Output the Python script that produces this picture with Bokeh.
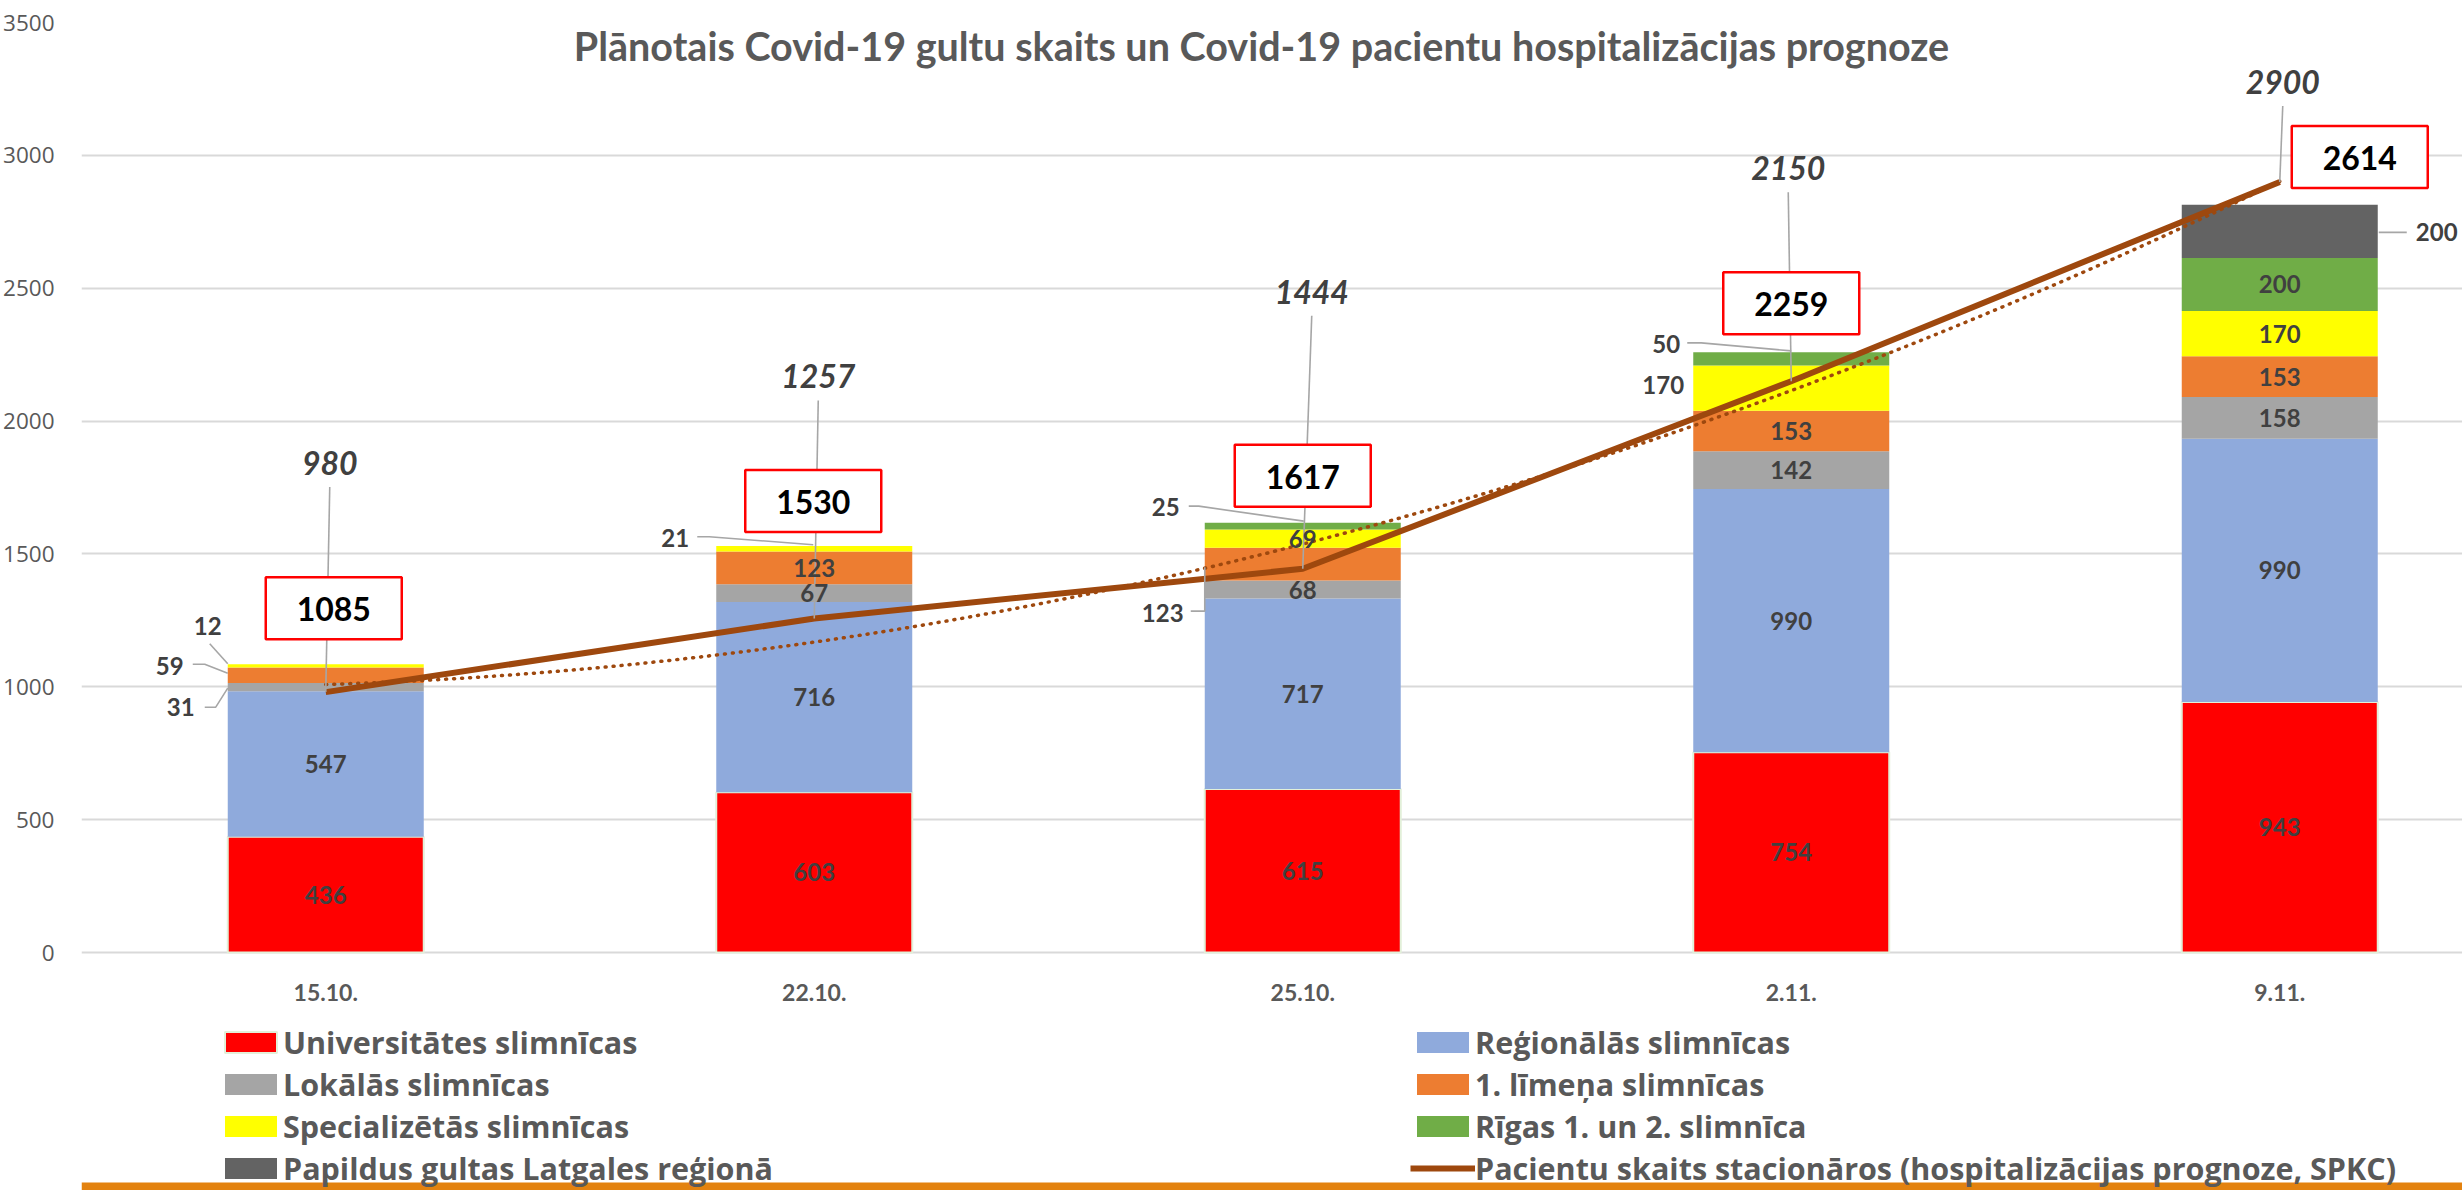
import numpy as np
from bokeh.plotting import figure
from bokeh.models import Range1d, FixedTicker, Legend, LegendItem, Label, BoxAnnotation
from bokeh.core.properties import value
from bokeh.embed import file_html
from bokeh.resources import INLINE

# ---------------- data ----------------
categories = ["15.10.", "22.10.", "25.10.", "2.11.", "9.11."]
universitates = [436, 603, 615, 754, 943]
regionalas = [547, 716, 717, 990, 990]
lokalas = [31, 67, 68, 142, 158]
limena1 = [59, 123, 123, 153, 153]
specializetas = [12, 21, 69, 170, 170]
rigas = [0, 0, 25, 50, 200]
latgale = [0, 0, 0, 0, 200]
pacienti = [980, 1257, 1444, 2150, 2900]
totals = [1085, 1530, 1617, 2259, 2614]
y_ticks = [0, 500, 1000, 1500, 2000, 2500, 3000, 3500]

series_names = ["Universitātes slimnīcas", "Reģionālās slimnīcas", "Lokālās slimnīcas",
                "1. līmeņa slimnīcas", "Specializētās slimnīcas", "Rīgas 1. un 2. slimnīca",
                "Papildus gultas Latgales reģionā"]
line_name = "Pacientu skaits stacionāros (hospitalizācijas prognoze, SPKC)"
title_text = "Plānotais Covid-19 gultu skaits un Covid-19 pacientu hospitalizācijas prognoze"
colors = ["#FF0000", "#8FAADC", "#A5A5A5", "#ED7D31", "#FFFF00", "#70AD47", "#636363"]

# ---------------- geometry ----------------
FRAME_W = 2381
PLOT_H = 930            # pixels from 0 to 3500
BELOW_H = 238           # room under the zero line for the category labels and legend
CAT_PX = 488.5
PXU = PLOT_H / 3500.0
BAR_W = 196 / CAT_PX
FONT = "Lato"
LEG_FONT = "Open Sans"
GRAY_TXT = "#595959"
LBL_TXT = "#404040"
BROWN = "#9E480E"
LEADER = "#A6A6A6"
X_END = -0.5 + FRAME_W / CAT_PX
Y_START = -BELOW_H / PXU

def dxd(px):
    return px / CAT_PX

def dyd(px):
    return -px / PXU

p = figure(frame_width=FRAME_W, frame_height=PLOT_H + BELOW_H,
           x_range=Range1d(-0.5, X_END), y_range=Range1d(Y_START, 3500),
           output_backend="svg", toolbar_location=None,
           min_border_left=74, min_border_right=0, min_border_top=22, min_border_bottom=0)
p.outline_line_color = None
p.background_fill_color = "white"
p.border_fill_color = "white"
p.xgrid.visible = False
p.ygrid.grid_line_color = "#D9D9D9"
p.ygrid.grid_line_width = 2

p.yaxis.ticker = FixedTicker(ticks=y_ticks)
p.yaxis.axis_line_color = None
p.yaxis.major_tick_line_color = None
p.yaxis.minor_tick_line_color = None
p.yaxis.major_label_standoff = 21
p.yaxis.major_label_text_font = "Open Sans"
p.yaxis.major_label_text_font_size = "22.5px"
p.yaxis.major_label_text_color = GRAY_TXT

xs = list(range(len(categories)))
p.xaxis.ticker = FixedTicker(ticks=xs)
p.xaxis.fixed_location = 0
p.xaxis.major_label_overrides = {i: c for i, c in zip(xs, categories)}
p.xaxis.axis_line_color = None
p.xaxis.major_tick_line_color = None
p.xaxis.minor_tick_line_color = None
p.xaxis.major_label_standoff = 25
p.xaxis.major_label_text_font = FONT
p.xaxis.major_label_text_font_style = "bold"
p.xaxis.major_label_text_font_size = "23px"
p.xaxis.major_label_text_color = GRAY_TXT

# ---------------- stacked bars ----------------
stack = np.array([universitates, regionalas, lokalas, limena1, specializetas, rigas, latgale], dtype=float)
tops = np.cumsum(stack, axis=0)
bottoms = tops - stack
bar_renderers = []
for k in range(len(series_names)):
    r = p.vbar(x=xs, bottom=list(bottoms[k]), top=list(tops[k]), width=BAR_W,
               fill_color=colors[k],
               line_color="#E2F0D9" if k == 0 else None, line_width=2)
    bar_renderers.append(r)

# ---------------- trendline + line ----------------
coef = np.polyfit(xs, pacienti, 2)   # Excel polynomial (order 2) trendline of the patient series
tx = np.linspace(0, 4, 200)
p.line(tx, np.polyval(coef, tx), line_color=BROWN, line_width=3.5, line_dash="1 7", line_cap="round")
line_r = p.line(xs, pacienti, line_color=BROWN, line_width=6, line_join="round")

# ---------------- segment labels ----------------
outside = {
    (4, 0): ((-118, -40), [(-116, -22), (-98, -2)]),
    (3, 0): ((-156, -9), [(-133, -11), (-121, -11), (-98, -2)]),
    (2, 0): ((-145, 20), [(-121, 20), (-110, 20), (-98, 1)]),
    (4, 1): ((-139, -11), [(-117, -12), (-105, -12), (-1, -4)]),
    (3, 2): ((-140, 49), [(-112, 47), (-98, 47), (-98, 3)]),
    (5, 2): ((-137, -19), [(-114, -20), (-104, -20), (1, -5)]),
    (4, 3): ((-128, -3), []),
    (5, 3): ((-125, -15), [(-104, -16), (-90, -16), (0, -8)]),
    (6, 4): ((157, 1), [(99, 1), (127, 1)]),
}
in_x, in_y, in_t = [], [], []
out_x, out_y, out_t, out_dx, out_dy = [], [], [], [], []
lead_xs, lead_ys = [], []
for k in range(len(series_names)):
    for i in xs:
        v = int(stack[k, i])
        if v <= 0:
            continue
        mid = bottoms[k, i] + v / 2.0
        if (k, i) in outside:
            (ldx, ldy), pts = outside[(k, i)]
            out_x.append(i); out_y.append(mid); out_t.append(str(v))
            out_dx.append(ldx); out_dy.append(ldy)
            if pts:
                lead_xs.append([i + dxd(a) for a, b in pts])
                lead_ys.append([mid + dyd(b) for a, b in pts])
        else:
            in_x.append(i); in_y.append(mid); in_t.append(str(v))

# line labels: offsets of the text baseline from the line point
lab_dx = [4, 4, 9, -3, 3]
lab_dy = [-217, -230, -265, -201, -88]
for i in xs:
    lead_xs.append([i + dxd(lab_dx[i]), i])
    lead_ys.append([pacienti[i] + dyd(lab_dy[i] + 12), pacienti[i]])

p.multi_line(lead_xs, lead_ys, line_color=LEADER, line_width=1.6)

p.text(x=in_x, y=in_y, text=in_t, text_align="center", text_baseline="middle",
       text_font=value(FONT), text_font_style="bold", text_font_size="24px", text_color=LBL_TXT)
p.text(x=out_x, y=out_y, text=out_t, x_offset=out_dx, y_offset=out_dy,
       text_align="center", text_baseline="middle",
       text_font=value(FONT), text_font_style="bold", text_font_size="24px", text_color=LBL_TXT)

# line value labels (italic), centred 12px above their baseline
p.text(x=xs, y=pacienti, text=[str(v) for v in pacienti], x_offset=lab_dx,
       y_offset=[d - 12 for d in lab_dy],
       text_align="center", text_baseline="middle",
       text_font=value(FONT), text_font_style="bold italic", text_font_size="32px", text_color=LBL_TXT)

# boxed totals
box_dx = [8, -1, 0, 0, 80]
box_dy = [-56, -45, -47, -49, -101]
bx = [i + dxd(box_dx[i]) for i in xs]
by = [totals[i] + dyd(box_dy[i]) for i in xs]
p.rect(x=bx, y=by, width=136, height=62, width_units="screen", height_units="screen",
       fill_color="white", line_color="#FF0000", line_width=2.5)
p.text(x=bx, y=by, text=[str(v) for v in totals], y_offset=1,
       text_align="center", text_baseline="middle",
       text_font=value(FONT), text_font_style="bold", text_font_size="32px", text_color="black")

# title inside plot area
p.add_layout(Label(x=(1262 - 82) / CAT_PX - 0.5, y=3500 + dyd(23), text=title_text,
                   text_align="center", text_baseline="middle",
                   text_font=FONT, text_font_style="bold", text_font_size="39.5px",
                   text_color=GRAY_TXT))

# ---------------- legend (column-major, two columns) ----------------
order = [0, 2, 4, 6, 1, 3, 5]
items = [LegendItem(label=series_names[k], renderers=[bar_renderers[k]]) for k in order]
items.append(LegendItem(label=line_name, renderers=[line_r]))
legend = Legend(items=items, ncols=2, location=(137, 1),
                glyph_width=65, glyph_height=26, label_standoff=0, label_width=1127,
                label_height=40, spacing=0, padding=0, margin=0,
                border_line_color=None, background_fill_alpha=0,
                label_text_font=LEG_FONT, label_text_font_style="bold",
                label_text_font_size="30.5px", label_text_color=GRAY_TXT)
p.add_layout(legend)

# orange strip at the bottom edge of the slide
p.add_layout(BoxAnnotation(left=-0.5, right=X_END, bottom=Y_START, top=Y_START + 8 / PXU,
                           fill_color="#E3820F", fill_alpha=1, line_color=None))

open("out.html", "w").write(file_html(p, INLINE))
